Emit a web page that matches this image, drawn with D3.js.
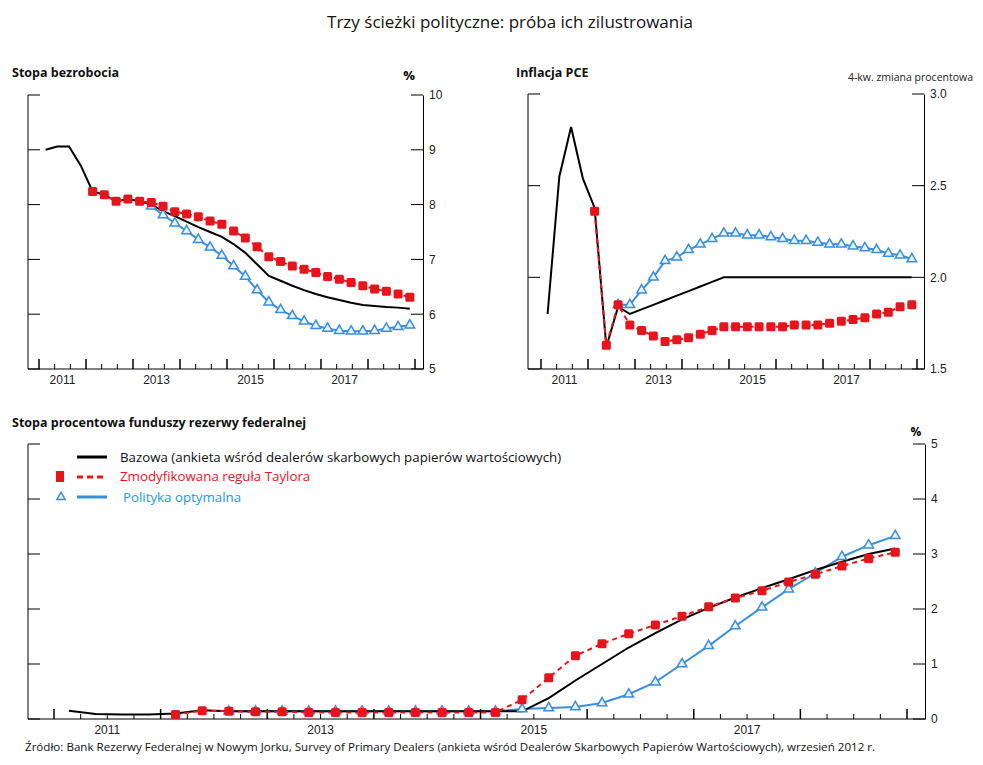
<!DOCTYPE html>
<html><head><meta charset="utf-8">
<script src="https://cdn.jsdelivr.net/npm/d3@7"></script>
<style>body{margin:0;background:#fff}svg{font-family:"Open Sans",sans-serif}</style>
</head><body><svg id="c" width="983" height="765"></svg>
<script>
// quarterly grid: index i, time = 2011.14 + 0.25*i
const startT = 2011.14;
const years = [2011,2013,2015,2017];
const unempBase = [9.0,9.06,9.06,8.71,8.24,8.18,8.06,8.1,8.06,8.0,7.88,7.79,7.69,7.59,7.5,7.41,7.28,7.12,6.91,6.7,6.61,6.52,6.44,6.37,6.31,6.26,6.21,6.17,6.15,6.13,6.12,6.1];
const unempTaylor = [null,null,null,null,8.24,8.18,8.06,8.1,8.06,8.04,7.97,7.87,7.83,7.78,7.7,7.64,7.52,7.39,7.23,7.05,6.96,6.88,6.82,6.76,6.69,6.64,6.58,6.52,6.46,6.42,6.37,6.31];
const unempOpt = [null,null,null,null,null,null,null,null,null,7.97,7.81,7.66,7.52,7.36,7.22,7.07,6.88,6.69,6.44,6.22,6.08,5.97,5.87,5.79,5.74,5.7,5.69,5.69,5.7,5.74,5.77,5.8];
const inflBase = [1.8,2.55,2.82,2.54,2.38,1.62,1.84,1.8,1.825,1.85,1.875,1.9,1.925,1.95,1.975,2.0,2.0,2.0,2.0,2.0,2.0,2.0,2.0,2.0,2.0,2.0,2.0,2.0,2.0,2.0,2.0,2.0];
const inflTaylor = [null,null,null,null,2.36,1.63,1.85,1.74,1.71,1.68,1.65,1.66,1.67,1.69,1.71,1.73,1.73,1.73,1.73,1.73,1.73,1.74,1.74,1.74,1.75,1.76,1.77,1.78,1.8,1.81,1.84,1.85];
const inflOpt = [null,null,null,null,null,null,1.85,1.85,1.93,2.0,2.09,2.11,2.15,2.18,2.21,2.24,2.24,2.23,2.23,2.22,2.21,2.2,2.2,2.19,2.18,2.18,2.17,2.16,2.15,2.13,2.12,2.1];
const ffBase = [0.15,0.09,0.08,0.08,0.1,0.16,0.14,0.14,0.14,0.14,0.14,0.14,0.14,0.14,0.14,0.14,0.14,0.14,0.38,0.7,1.0,1.3,1.56,1.81,2.02,2.21,2.38,2.54,2.71,2.86,3.0,3.1];
const ffTaylor = [null,null,null,null,0.08,0.15,0.14,0.13,0.13,0.12,0.12,0.12,0.12,0.12,0.12,0.12,0.12,0.35,0.75,1.15,1.37,1.55,1.71,1.87,2.04,2.2,2.33,2.49,2.63,2.78,2.92,3.03];
const ffOpt = [null,null,null,null,null,null,0.14,0.14,0.14,0.14,0.14,0.14,0.14,0.14,0.14,0.14,0.14,0.18,0.2,0.22,0.29,0.45,0.67,1.0,1.33,1.69,2.03,2.36,2.65,2.95,3.16,3.33];
const unempTicks=[5,6,7,8,9,10], inflTicks=[1.5,2.0,2.5,3.0], ffTicks=[0,1,2,3,4,5];
const legendLabels=["Bazowa (ankieta wśród dealerów skarbowych papierów wartościowych)","Zmodyfikowana reguła Taylora","Polityka optymalna"];

const svg=d3.select("#c");
const RED="#e8141c", BLUE="#3a8fdc";
const t=i=>startT+0.25*i;

function panel(o){
  const x=d3.scaleLinear().domain([2011,2019]).range([o.x0,o.x1]);
  const y=d3.scaleLinear().domain(o.ydom).range([o.yb,o.yt]);
  const g=svg.append("g");
  g.append("line").attr("x1",o.left).attr("x2",o.left).attr("y1",o.yt).attr("y2",o.yb).attr("stroke","#000");
  o.ticks.forEach(v=>g.append("line").attr("x1",o.left).attr("x2",o.left+12).attr("y1",y(v)).attr("y2",y(v)).attr("stroke","#000"));
  const ra=d3.axisRight(y).tickValues(o.ticks).tickSize(0).tickPadding(6).tickFormat(o.fmt);
  const rg=g.append("g").attr("transform",`translate(${o.right},0)`).call(ra);
  rg.select(".domain").attr("stroke","#000");
  rg.selectAll("text").attr("font-size",12).attr("font-family","Arial, Liberation Sans, sans-serif").attr("fill","#222");
  o.ticks.forEach(v=>g.append("line").attr("x1",o.right-12).attr("x2",o.right).attr("y1",y(v)).attr("y2",y(v)).attr("stroke","#000"));
  g.append("line").attr("x1",o.left).attr("x2",o.right).attr("y1",o.yb).attr("y2",o.yb).attr("stroke","#000");
  for(let yr=2011;yr<=2019;yr++){
    g.append("line").attr("x1",x(yr)).attr("x2",x(yr)).attr("y1",o.yb).attr("y2",o.yb-10).attr("stroke","#000").attr("stroke-width",1.5);
    if(yr<2019) for(let k=1;k<o.minor;k++){const xx=x(yr+k/o.minor);
      g.append("line").attr("x1",xx).attr("x2",xx).attr("y1",o.yb).attr("y2",o.yb-5).attr("stroke","#000");}
  }
  years.forEach(yr=>g.append("text").attr("x",x(yr+0.5)).attr("y",o.yb+15).attr("text-anchor","middle")
    .attr("font-size",12).attr("font-family","Arial, Liberation Sans, sans-serif").attr("fill","#222").text(yr));
  const series=(arr)=>arr.map((v,i)=>v==null?null:{i,v});
  const ln=d3.line().defined(d=>d!=null).x(d=>x(t(d.i))).y(d=>y(d.v));
  g.append("path").attr("d",ln(series(o.opt))).attr("fill","none").attr("stroke",BLUE).attr("stroke-width",2);
  g.append("path").attr("d",ln(series(o.base))).attr("fill","none").attr("stroke","#000").attr("stroke-width",2);
  g.append("path").attr("d",ln(series(o.taylor))).attr("fill","none").attr("stroke",RED).attr("stroke-width",2).attr("stroke-dasharray","5,4");
  const tri=d3.symbol().type(d3.symbolTriangle).size(40);
  g.selectAll(null).data(series(o.opt).filter(d=>d)).join("path").attr("d",tri)
    .attr("transform",d=>`translate(${x(t(d.i))},${y(d.v)})`).attr("fill","#e8f2fc").attr("stroke",BLUE).attr("stroke-width",1.5);
  g.selectAll(null).data(series(o.taylor).filter(d=>d)).join("rect")
    .attr("x",d=>x(t(d.i))-4.5).attr("y",d=>y(d.v)-4.5).attr("width",9).attr("height",9).attr("rx",1.5).attr("fill",RED);
}

svg.append("text").attr("x",510).attr("y",28).attr("text-anchor","middle").attr("font-size",17).attr("fill","#111").text("Trzy ścieżki polityczne: próba ich zilustrowania");

panel({x0:39,x1:415,left:28,right:423,yt:95,yb:369,ydom:[5,10],ticks:unempTicks,fmt:d3.format("d"),minor:3,base:unempBase,taylor:unempTaylor,opt:unempOpt});
panel({x0:541,x1:917,left:528,right:924,yt:94,yb:369,ydom:[1.5,3.0],ticks:inflTicks,fmt:d3.format(".1f"),minor:3,base:inflBase,taylor:inflTaylor,opt:inflOpt});
panel({x0:54,x1:907,left:28,right:925,yt:444,yb:719,ydom:[0,5],ticks:ffTicks,fmt:d3.format("d"),minor:4,base:ffBase,taylor:ffTaylor,opt:ffOpt});

const bold=(x,y,s)=>svg.append("text").attr("x",x).attr("y",y).attr("font-size",12.5).attr("font-weight","bold").attr("fill","#111").text(s);
bold(12,77,"Stopa bezrobocia");
bold(516,77,"Inflacja PCE");
bold(12,427,"Stopa procentowa funduszy rezerwy federalnej");
svg.append("text").attr("x",409).attr("y",80).attr("font-size",13).attr("font-weight","bold").attr("text-anchor","middle").text("%");
svg.append("text").attr("x",916).attr("y",436).attr("font-size",12).attr("font-weight","bold").attr("text-anchor","middle").text("%");
svg.append("text").attr("x",973).attr("y",81).attr("font-size",10.5).attr("text-anchor","end").attr("fill","#222").text("4-kw. zmiana procentowa");

const lg=svg.append("g").attr("font-size",13.3);
lg.append("line").attr("x1",77).attr("x2",107).attr("y1",457).attr("y2",457).attr("stroke","#000").attr("stroke-width",3);
lg.append("text").attr("x",120).attr("y",462).attr("fill","#111").text(legendLabels[0]);
lg.append("rect").attr("x",56).attr("y",471).attr("width",8).attr("height",11).attr("fill",RED);
lg.append("line").attr("x1",77).attr("x2",107).attr("y1",477).attr("y2",477).attr("stroke",RED).attr("stroke-width",3).attr("stroke-dasharray","6,4");
lg.append("text").attr("x",120).attr("y",481).attr("fill",RED).text(legendLabels[1]);
lg.append("path").attr("d",d3.symbol().type(d3.symbolTriangle).size(30)()).attr("transform","translate(61,497)").attr("fill","#e8f2fc").attr("stroke",BLUE).attr("stroke-width",1.5);
lg.append("line").attr("x1",77).attr("x2",107).attr("y1",497).attr("y2",497).attr("stroke",BLUE).attr("stroke-width",3);
lg.append("text").attr("x",123).attr("y",502).attr("fill","#1b9ad6").text(legendLabels[2]);

svg.append("text").attr("x",25).attr("y",751).attr("font-size",11.6).attr("fill","#111")
 .text("Źródło: Bank Rezerwy Federalnej w Nowym Jorku, Survey of Primary Dealers (ankieta wśród Dealerów Skarbowych Papierów Wartościowych), wrzesień 2012 r.");
</script></body></html>
